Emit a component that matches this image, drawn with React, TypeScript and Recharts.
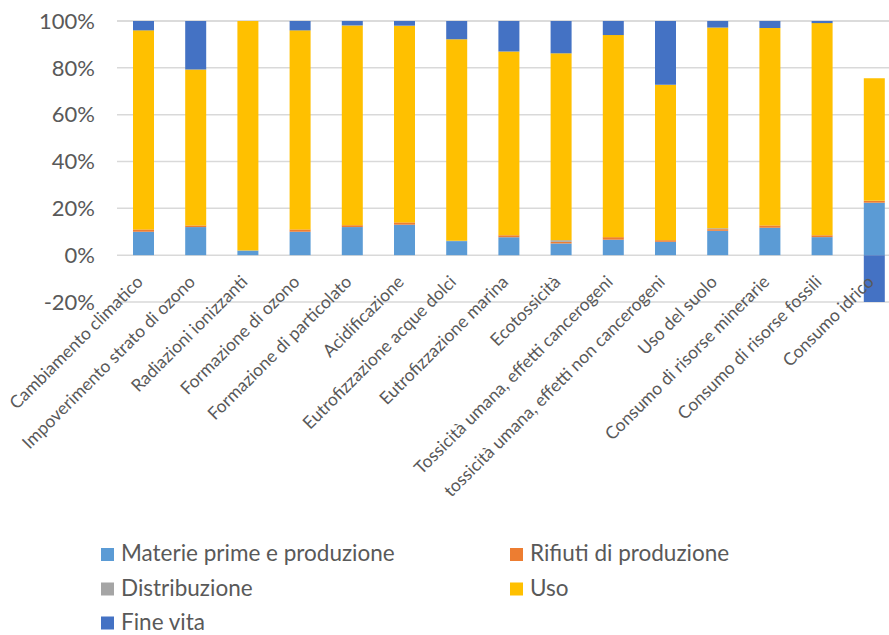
import { BarChart, Bar, XAxis, YAxis, CartesianGrid } from 'recharts'

const categories = [
  'Cambiamento climatico',
  'Impoverimento strato di ozono',
  'Radiazioni ionizzanti',
  'Formazione di ozono',
  'Formazione di particolato',
  'Acidificazione',
  'Eutrofizzazione acque dolci',
  'Eutrofizzazione marina',
  'Ecotossicità',
  'Tossicità umana, effetti cancerogeni',
  'tossicità umana, effetti non cancerogeni',
  'Uso del suolo',
  'Consumo di risorse minerarie',
  'Consumo di risorse fossili',
  'Consumo idrico',
]

// percent shares per life-cycle phase
const materie = [10, 12, 2, 10, 12, 13, 6, 7.7, 5, 6.6, 5.7, 10.4, 11.7, 7.7, 22.4]
const rifiuti = [1, 0.7, 0, 1, 0.8, 1, 0, 0.8, 0.7, 1.1, 0.7, 0.7, 1, 0.8, 0.8]
const distribuzione = [0, 0, 0, 0, 0, 0, 0.2, 0, 0.7, 0, 0, 0.4, 0, 0, 0]
const uso = [85, 66.6, 98, 85, 85.3, 84, 86, 78.5, 79.8, 86.3, 66.4, 85.7, 84.3, 90.6, 52.3]
const fineVita = [4, 20.7, 0, 4, 1.9, 2, 7.8, 13, 13.8, 6, 27.2, 2.8, 3, 0.9, -20]

const yTicks = [-20, 0, 20, 40, 60, 80, 100]

const series = [
  { key: 'materie', name: 'Materie prime e produzione', color: '#5B9BD5' },
  { key: 'rifiuti', name: 'Rifiuti di produzione', color: '#ED7D31' },
  { key: 'distribuzione', name: 'Distribuzione', color: '#A5A5A5' },
  { key: 'uso', name: 'Uso', color: '#FFC000' },
  { key: 'fineVita', name: 'Fine vita', color: '#4472C4' },
]

const data = categories.map((name, i) => ({
  name,
  materie: materie[i],
  rifiuti: rifiuti[i],
  distribuzione: distribuzione[i],
  uso: uso[i],
  fineVita: fineVita[i],
}))

const FONT = 'Lato, Carlito, Calibri, sans-serif'
const TEXT = '#595959'
// labels sit next to the 0% line, not under the plot
const LABEL_SHIFT = 19

function CategoryTick({ x, y, payload }: any) {
  return (
    <g transform={`translate(${x + 1},${y - LABEL_SHIFT})`}>
      <text transform="rotate(-45)" textAnchor="end" fill={TEXT} fontSize={17.5} fontFamily={FONT}>
        {payload.value}
      </text>
    </g>
  )
}

function LegendBox() {
  const cols = [101, 510]
  const baselines = [561, 595.5, 629.5]
  return (
    <svg width={889} height={635} style={{ position: 'absolute', left: 0, top: 0, pointerEvents: 'none' }}>
      {series.map((s, i) => {
        const x = cols[i % 2]
        const y = baselines[Math.floor(i / 2)]
        return (
          <g key={s.key}>
            <rect x={x} y={y - 13} width={13} height={13} fill={s.color} />
            <text x={x + 20} y={y} fill={TEXT} fontSize={22.5} fontFamily={FONT}>
              {s.name}
            </text>
          </g>
        )
      })}
    </svg>
  )
}

export default function App() {
  return (
    <div style={{ position: 'absolute', left: 0, top: 0, width: 889, height: 635, overflow: 'hidden', background: '#fff' }}>
      <BarChart
        width={905}
        height={635}
        data={data}
        stackOffset="sign"
        margin={{ top: 21, right: 5, bottom: 303, left: 0 }}
      >
        <CartesianGrid vertical={false} stroke="#d9d9d9" strokeWidth={1.5} />
        <XAxis
          dataKey="name"
          axisLine={false}
          tickLine={false}
          tickSize={0}
          tickMargin={0}
          height={30}
          interval={0}
          tick={<CategoryTick />}
        />
        <YAxis
          width={117}
          domain={[-20, 100]}
          ticks={yTicks}
          axisLine={false}
          tickLine={false}
          tickSize={0}
          tickMargin={22}
          tickFormatter={(v: number) => `${v}%`}
          tick={{ fill: TEXT, fontSize: 22, fontFamily: FONT }}
        />
        {series.map((s) => (
          <Bar key={s.key} dataKey={s.key} name={s.name} stackId="a" fill={s.color} barSize={21} isAnimationActive={false} />
        ))}
      </BarChart>
      <LegendBox />
    </div>
  )
}
